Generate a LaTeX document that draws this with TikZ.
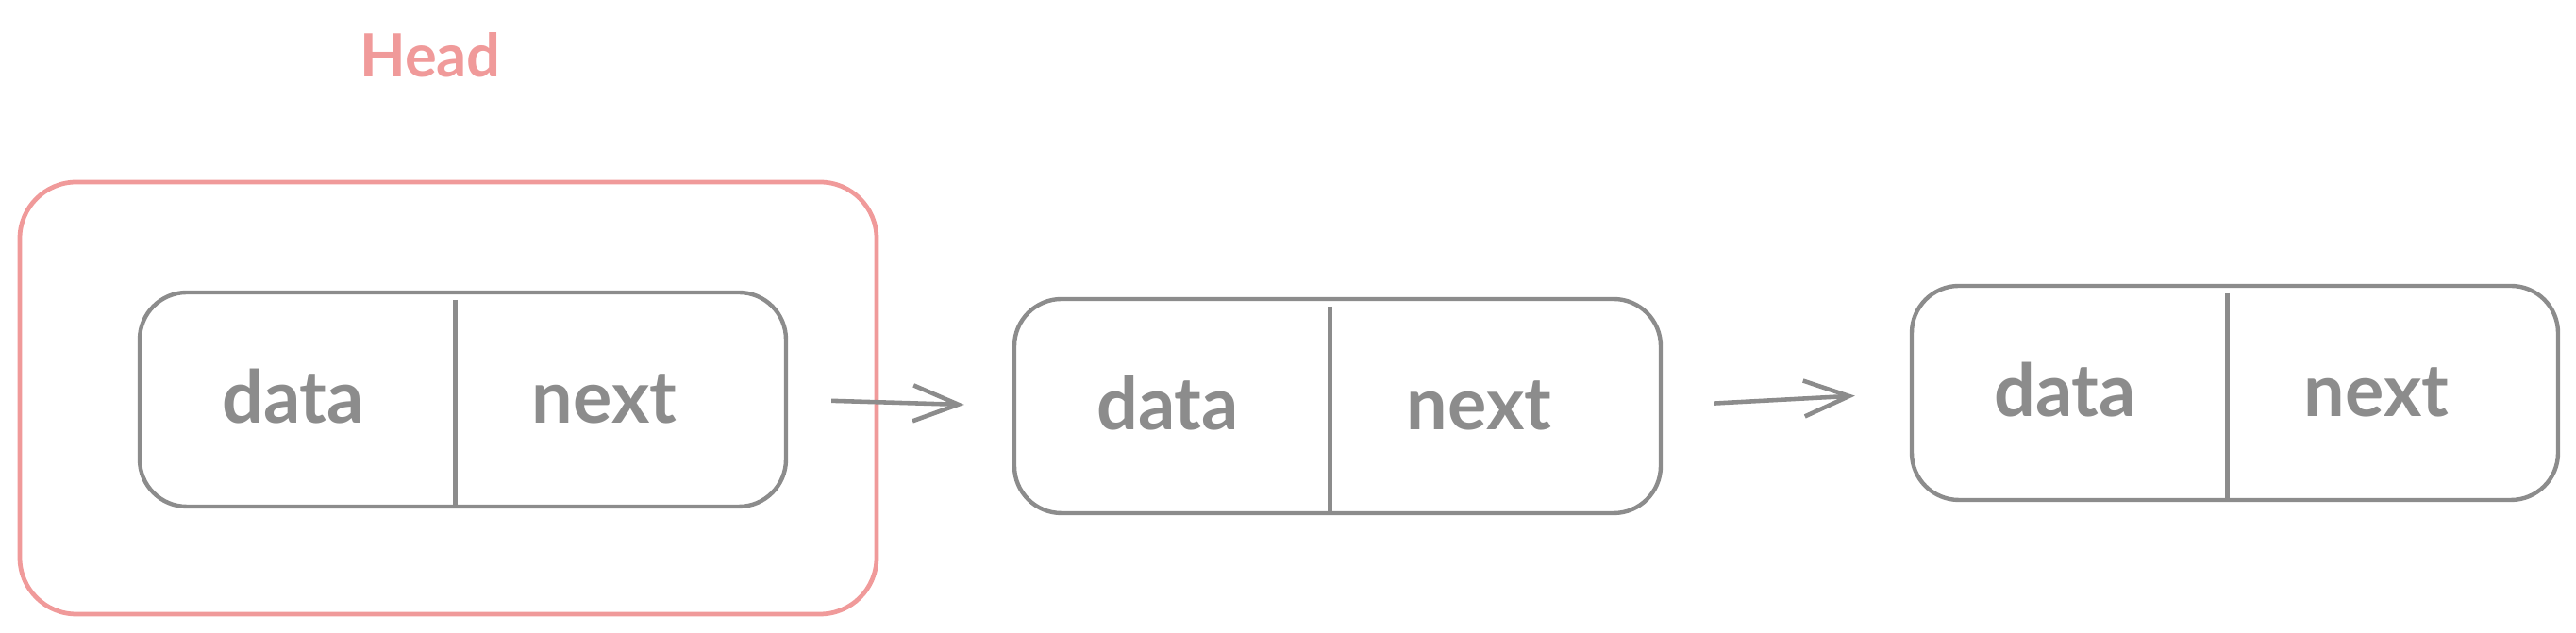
\documentclass[tikz,border=0pt]{standalone}
\usepackage{fontspec}
\setmainfont{Lato}
\usepackage{tikz}
\usetikzlibrary{arrows.meta, positioning}
\definecolor{inkgray}{HTML}{8C8C8C}
\definecolor{inkred}{HTML}{F09A9A}

\begin{document}
\begin{tikzpicture}[
    listnode/.style={draw=inkgray, line width=1.25pt, rounded corners=0.5cm,
      minimum width=6.85cm, minimum height=2.27cm, inner sep=0pt},
    headbox/.style={draw=inkred, line width=1.35pt, rounded corners=0.6cm,
      minimum width=9.08cm, minimum height=4.58cm, inner sep=0pt},
    field/.style={text=inkgray, font=\bfseries\fontsize{22}{26}\selectfont, anchor=base, inner sep=0pt},
    headlabel/.style={text=inkred, font=\bfseries\fontsize{18}{22}\selectfont, inner sep=0pt},
    divider/.style={draw=inkgray, line width=1.25pt},
    link/.style={draw=inkgray, line width=1.3pt, -{Straight Barb[length=0.48cm, width=0.38cm]}}
  ]
    \useasboundingbox (0,0) rectangle (27.3,6.71);
    \node[headbox] (head) at (4.75,2.49) {};
    \node[headlabel] (headtxt) at (4.56,6.13) {Head};
    \node[listnode] (n1) at (4.905,2.475) {};
    \node[listnode] (n2) at (14.175,2.405) {};
    \node[listnode] (n3) at (23.685,2.545) {};
    \foreach \n in {n1, n2, n3} {
      \node[field] (\n data) at ([xshift=-1.8cm, yshift=-0.25cm]\n.center) {data};
      \node[field] (\n next) at ([xshift=1.5cm, yshift=-0.25cm]\n.center) {next};
      \coordinate (\n top) at ([xshift=-0.08cm, yshift=-0.1cm]\n.north);
      \coordinate (\n bot) at ([xshift=-0.08cm]\n.south);
      \draw[divider] (\n top) -- (\n bot);
    }
    \draw[link, shorten <=0.46cm, shorten >=0.51cm] (n1.east) -- (n2.west);
    \draw[link, shorten <=0.54cm, shorten >=0.58cm] (n2.east) -- (n3.west);
\end{tikzpicture}
\end{document}
